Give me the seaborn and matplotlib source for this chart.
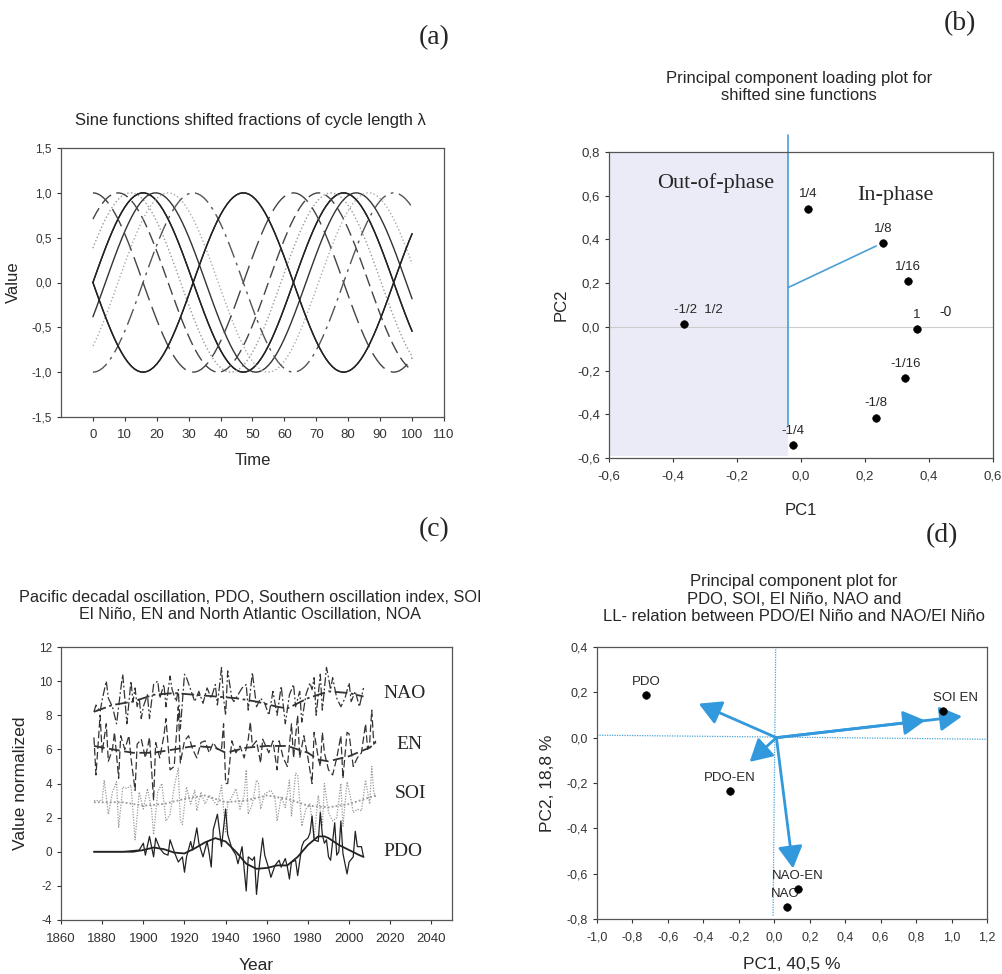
import numpy as np
import pandas as pd
import seaborn as sns
import matplotlib.pyplot as plt
from matplotlib.ticker import FuncFormatter, MultipleLocator

# (a) sine functions shifted by fractions of the cycle length
shifts = [0, 1, 1/16, -1/16, 1/8, -1/8, 1/4, -1/4, 1/2, -1/2]
shift_styles = ["-", "-", ":", "-", (0, (9, 4)), ":", (0, (14, 5)), (0, (12, 4, 2, 4)), "-", "-"]
shift_colors = ["#222222", "#222222", "#999999", "#333333", "#444444", "#aaaaaa",
                "#444444", "#555555", "#222222", "#222222"]
omega = 0.1  # cycle length lambda = 2*pi/omega
time = np.arange(0, 101)

# (b) loadings of the shifted sine functions
load_labels = ["-1/2  1/2", "1/4", "1/8", "1/16", "1", "-1/16", "-1/8", "-1/4"]
load_pc1 = [-0.365, 0.022, 0.256, 0.334, 0.362, 0.326, 0.233, -0.024]
load_pc2 = [0.012, 0.54, 0.382, 0.21, -0.01, -0.235, -0.415, -0.54]
boundary_x = [-0.04, -0.04]
boundary_y = [-0.45, 0.88]
ref_x = [-0.04, 0.235]
ref_y = [0.18, 0.37]

# (c) climate indices (year, value), each offset for display
pdo = [(1876, 0), (1890, 0), (1898, 0.1), (1900, 0.5), (1901, -0.2), (1903, 0.9), (1905, -0.3),
       (1906, 0.8), (1908, 0.2), (1910, -0.1), (1912, -0.2), (1913, 0.7), (1915, 0.0), (1917, -0.6),
       (1919, -0.3), (1920, -1.2), (1921, -0.3), (1923, 0.6), (1924, 0.1), (1926, 1.4), (1927, 0.5),
       (1929, -0.3), (1931, 0.6), (1932, -0.1), (1933, -0.9), (1934, 1.3), (1936, 2.2), (1938, 0.3),
       (1940, 2.5), (1941, 1.0), (1943, 0.2), (1945, -0.2), (1946, -0.7), (1948, 0.3), (1950, -2.3),
       (1951, -0.3), (1953, -0.5), (1954, -0.3), (1955, -2.5), (1956, -1.2), (1958, 0.8), (1959, -0.2),
       (1961, -1.0), (1962, -1.5), (1964, -0.8), (1966, -0.5), (1967, -0.9), (1969, -0.4), (1970, -0.9),
       (1971, -1.6), (1972, -0.6), (1974, -0.5), (1975, -1.4), (1977, 0.3), (1978, 0.6), (1980, 0.8),
       (1981, 1.1), (1982, 2.1), (1983, 0.7), (1985, 0.6), (1986, 2.3), (1987, 1.0), (1988, 0.5),
       (1989, 0.7), (1990, -0.3), (1991, -0.5), (1993, 1.7), (1994, -0.2), (1995, 0.0), (1996, 1.8),
       (1997, -0.1), (1999, -1.3), (2000, -0.6), (2002, -0.3), (2003, 1.2), (2004, 0.3), (2006, 0.3),
       (2007, -0.3)]
pdo_smooth = [(1876, 0), (1895, 0.0), (1900, 0.1), (1905, 0.25), (1910, 0.15), (1915, -0.05),
              (1920, -0.1), (1925, 0.2), (1930, 0.55), (1935, 0.8), (1940, 0.6), (1945, 0.0),
              (1950, -0.7), (1955, -1.0), (1960, -0.95), (1965, -0.8), (1970, -0.8), (1975, -0.3),
              (1980, 0.4), (1985, 0.9), (1988, 0.9), (1990, 0.8), (1995, 0.4), (2000, 0.1),
              (2005, -0.2), (2007, -0.3)]
soi = [(1876, 3.0), (1880, 3.0), (1881, 4.2), (1883, 2.2), (1885, 3.5), (1887, 4.1), (1888, 1.4),
       (1890, 3.8), (1892, 3.7), (1894, 3.9), (1896, 0.7), (1898, 3.5), (1900, 2.5), (1902, 3.7),
       (1904, 2.5), (1905, 1.0), (1907, 3.5), (1909, 4.0), (1911, 1.8), (1913, 2.2), (1915, 3.8),
       (1917, 4.9), (1918, 1.8), (1919, 1.6), (1921, 3.8), (1923, 2.8), (1925, 3.6), (1926, 2.4),
       (1928, 3.5), (1930, 2.8), (1932, 3.3), (1934, 3.0), (1936, 2.7), (1938, 3.9), (1939, 2.5),
       (1940, 1.1), (1941, 2.8), (1943, 3.2), (1945, 3.7), (1947, 2.5), (1949, 3.3), (1950, 4.8),
       (1951, 2.2), (1953, 2.8), (1955, 4.2), (1956, 4.0), (1957, 2.5), (1959, 3.4), (1962, 3.6),
       (1964, 3.2), (1965, 1.8), (1967, 3.2), (1969, 2.6), (1971, 4.2), (1972, 2.1), (1974, 4.6),
       (1975, 4.5), (1977, 1.5), (1979, 2.5), (1981, 2.8), (1983, 0.8), (1985, 3.3), (1987, 1.5),
       (1988, 4.0), (1990, 2.3), (1992, 1.8), (1994, 2.0), (1996, 4.0), (1997, 1.5), (1999, 4.1),
       (2001, 3.0), (2002, 2.3), (2004, 2.5), (2006, 2.4), (2008, 4.2), (2010, 2.8), (2011, 5.0),
       (2012, 3.5), (2013, 3.2)]
soi_smooth = [(1876, 2.9), (1890, 2.9), (1900, 2.7), (1910, 2.8), (1920, 3.1), (1930, 3.3),
              (1940, 2.9), (1950, 3.0), (1960, 3.3), (1970, 3.1), (1980, 2.7), (1990, 2.6),
              (2000, 2.8), (2013, 3.3)]
en = [(1876, 6.7), (1877, 4.5), (1879, 8.0), (1880, 5.8), (1882, 7.5), (1883, 5.3), (1885, 6.0),
      (1886, 7.0), (1888, 4.3), (1889, 6.8), (1891, 6.0), (1893, 6.8), (1894, 5.5), (1896, 3.6),
      (1897, 6.3), (1899, 6.6), (1901, 5.5), (1903, 6.7), (1905, 3.0), (1906, 6.4), (1908, 5.5),
      (1910, 6.8), (1911, 7.8), (1913, 4.8), (1915, 5.0), (1917, 8.5), (1918, 5.2), (1920, 6.5),
      (1922, 6.8), (1924, 6.0), (1926, 5.5), (1928, 6.4), (1930, 6.5), (1932, 5.8), (1934, 6.4),
      (1936, 6.0), (1938, 6.0), (1939, 7.5), (1940, 4.0), (1941, 4.0), (1943, 6.5), (1945, 5.8),
      (1947, 6.2), (1949, 5.5), (1951, 6.6), (1952, 7.6), (1953, 6.2), (1955, 6.5), (1957, 5.2),
      (1958, 6.6), (1961, 5.8), (1963, 6.5), (1965, 4.8), (1966, 6.5), (1968, 5.5), (1970, 5.0),
      (1972, 7.5), (1973, 5.5), (1975, 8.0), (1976, 5.5), (1978, 6.8), (1980, 5.5), (1982, 4.0),
      (1983, 7.0), (1985, 5.5), (1986, 5.0), (1987, 7.0), (1988, 5.8), (1990, 4.8), (1992, 4.5),
      (1994, 5.5), (1996, 6.8), (1997, 4.3), (1999, 7.0), (2000, 6.9), (2002, 5.0), (2004, 5.5),
      (2006, 5.8), (2008, 7.5), (2009, 6.0), (2010, 6.4), (2011, 8.3), (2012, 6.3), (2013, 6.5)]
en_smooth = [(1876, 6.2), (1885, 6.0), (1895, 5.8), (1905, 5.8), (1915, 6.0), (1925, 6.2),
             (1935, 6.1), (1940, 5.8), (1950, 6.1), (1960, 6.2), (1970, 6.2), (1980, 5.8),
             (1985, 5.4), (1990, 5.3), (2000, 5.6), (2010, 6.1), (2013, 6.4)]
nao = [(1876, 8.2), (1877, 8.6), (1879, 8.2), (1880, 8.9), (1882, 10.0), (1883, 9.0), (1885, 8.5),
       (1887, 7.5), (1889, 9.5), (1890, 10.4), (1891, 9.0), (1892, 7.5), (1894, 10.0), (1895, 8.8),
       (1896, 9.6), (1897, 8.5), (1898, 9.0), (1899, 7.8), (1900, 8.5), (1902, 9.2), (1903, 7.8),
       (1905, 9.8), (1907, 10.0), (1908, 9.0), (1910, 9.8), (1911, 8.5), (1913, 10.3), (1914, 9.5),
       (1916, 8.8), (1917, 9.5), (1918, 7.2), (1920, 10.4), (1921, 10.2), (1923, 9.5), (1925, 8.8),
       (1927, 9.4), (1929, 8.7), (1931, 9.6), (1933, 9.0), (1935, 9.8), (1936, 8.6), (1938, 10.8),
       (1939, 9.0), (1940, 8.0), (1941, 10.6), (1943, 9.0), (1944, 8.8), (1946, 9.2), (1948, 9.6),
       (1950, 9.8), (1951, 8.3), (1953, 10.5), (1955, 8.5), (1957, 9.0), (1959, 8.7), (1961, 8.0),
       (1963, 9.4), (1965, 8.0), (1967, 9.7), (1969, 7.5), (1971, 9.2), (1973, 9.8), (1974, 8.5),
       (1976, 9.4), (1977, 7.6), (1979, 9.2), (1981, 9.9), (1982, 9.5), (1983, 10.2), (1984, 8.0),
       (1986, 10.4), (1987, 8.3), (1989, 10.8), (1990, 10.2), (1991, 9.5), (1992, 10.2), (1994, 9.0),
       (1996, 8.5), (1998, 9.0), (2000, 9.9), (2001, 8.8), (2003, 9.4), (2005, 8.5), (2007, 9.6)]
nao_smooth = [(1876, 8.2), (1885, 8.6), (1895, 8.8), (1905, 9.2), (1915, 9.3), (1925, 9.2),
              (1935, 9.1), (1945, 9.0), (1955, 8.8), (1965, 8.5), (1970, 8.4), (1975, 8.7),
              (1980, 9.0), (1990, 9.4), (2000, 9.3), (2007, 9.1)]
index_labels = ["NAO", "EN", "SOI", "PDO"]
index_label_year = [2016.5, 2023, 2022, 2016.5]
index_label_value = [9.3, 6.3, 3.4, 0.0]

# (d) principal component scores and loading arrows
pc_labels = ["PDO", "SOI EN", "PDO-EN", "NAO-EN", "NAO"]
pc1_vals = [-0.722, 0.952, -0.25, 0.132, 0.07]
pc2_vals = [0.188, 0.118, -0.236, -0.668, -0.746]
arrow_origin = (0.012, 0.0)
arrow_x = [-0.426, -0.139, 0.106, 0.852, 1.059]
arrow_y = [0.15, -0.107, -0.577, 0.076, 0.094]

W, H = 1003, 974
sns.set_style("ticks")
plt.rcParams["font.family"] = ["Liberation Sans", "DejaVu Sans"]
plt.rcParams["axes.unicode_minus"] = False
plt.rcParams["axes.edgecolor"] = "#555555"
plt.rcParams["axes.linewidth"] = 0.9
plt.rcParams["xtick.color"] = "#333333"
plt.rcParams["ytick.color"] = "#333333"
plt.rcParams["xtick.major.size"] = 3
plt.rcParams["ytick.major.size"] = 3
plt.rcParams["xtick.major.pad"] = 6

fig = plt.figure(figsize=(W / 100, H / 100), dpi=100)


def box(l, t, r, b):
    return fig.add_axes([l / W, 1 - b / H, (r - l) / W, (b - t) / H])


comma = FuncFormatter(lambda v, p: f"{v:.1f}".replace(".", ","))
serif = ["Liberation Serif", "DejaVu Serif"]

# ---- (a)
ax = box(61, 148, 444, 417)
for s, ls, c in zip(shifts, shift_styles, shift_colors):
    df = pd.DataFrame({"t": time, "v": np.sin(omega * time + 2 * np.pi * s)})
    sns.lineplot(data=df, x="t", y="v", ax=ax, color=c, linestyle=ls, lw=1.0, estimator=None)
ax.set_xlim(-10, 110)
ax.set_ylim(-1.5, 1.5)
ax.set_xticks(range(0, 111, 10))
ax.yaxis.set_major_locator(MultipleLocator(0.5))
ax.yaxis.set_major_formatter(comma)
ax.tick_params(axis="x", labelsize=9.5)
ax.tick_params(axis="y", labelsize=8.5)
ax.set_xlabel("Time", fontsize=12, labelpad=8)
ax.set_ylabel("Value", fontsize=12, labelpad=8)
fig.text(250 / W, 1 - 120 / H, "Sine functions shifted fractions of cycle length \u03bb",
         ha="center", va="center", fontsize=12)
fig.text(434 / W, 1 - 38 / H, "(a)", family=serif, fontsize=20, ha="center", va="center")

# ---- (b)
ax = box(609, 152, 993, 458)
ax.axvspan(-0.6, -0.04, ymin=0.005, color="#ebebf7", lw=0)
ax.axhline(0, color="#cccccc", lw=0.8)
ax.plot(boundary_x, boundary_y, color="#4a9fd5", lw=1.2, clip_on=False)
ax.plot(ref_x, ref_y, color="#4a9fd5", lw=1.2)
sns.scatterplot(x=load_pc1, y=load_pc2, ax=ax, color="black", s=30, edgecolor="black", zorder=5)
for lab, x, y in zip(load_labels, load_pc1, load_pc2):
    dx = 0.045 if lab.startswith("-1/2") else 0
    ax.annotate(lab, (x + dx, y), xytext=(0, 6), textcoords="offset points",
                ha="center", va="bottom", fontsize=9.5)
ax.text(0.452, 0.035, "-0", ha="center", va="bottom", fontsize=10)
ax.text(-0.45, 0.66, "Out-of-phase", family=serif, fontsize=16, va="center")
ax.text(0.175, 0.6, "In-phase", family=serif, fontsize=16, va="center")
ax.set_xlim(-0.6, 0.6)
ax.set_ylim(-0.6, 0.8)
ax.xaxis.set_major_locator(MultipleLocator(0.2))
ax.yaxis.set_major_locator(MultipleLocator(0.2))
ax.xaxis.set_major_formatter(comma)
ax.yaxis.set_major_formatter(comma)
ax.tick_params(labelsize=9.5)
ax.set_xlabel("PC1", fontsize=12, labelpad=15)
ax.set_ylabel("PC2", fontsize=12, labelpad=6)
fig.text(799 / W, 1 - 87 / H, "Principal component loading plot for\nshifted sine functions",
         ha="center", va="center", fontsize=12, linespacing=1.2)
fig.text(960 / W, 1 - 24 / H, "(b)", family=serif, fontsize=20, ha="center", va="center")

# ---- (c)
ax = box(61, 647, 452, 920)
series = [(nao, nao_smooth, (0, (7, 2, 1.5, 2)), "#333333"),
          (en, en_smooth, (0, (6, 2.5)), "#333333"),
          (soi, soi_smooth, (0, (1, 1.2)), "#999999"),
          (pdo, pdo_smooth, "-", "#222222")]
for raw, smooth, ls, c in series:
    r = pd.DataFrame(raw, columns=["year", "value"])
    m = pd.DataFrame(smooth, columns=["year", "value"])
    sns.lineplot(data=r, x="year", y="value", ax=ax, color=c, linestyle=ls, lw=0.9, estimator=None)
    sns.lineplot(data=m, x="year", y="value", ax=ax, color=c, linestyle=ls, lw=1.3, estimator=None)
for lab, x, y in zip(index_labels, index_label_year, index_label_value):
    ax.text(x, y, lab, family=serif, fontsize=14, va="center", ha="left")
ax.set_xlim(1860, 2050)
ax.set_ylim(-4, 12)
ax.set_xticks(range(1860, 2041, 20))
ax.set_yticks(range(-4, 13, 2))
ax.tick_params(axis="x", labelsize=9.5)
ax.tick_params(axis="y", labelsize=8.5)
ax.set_xlabel("Year", fontsize=12.5, labelpad=10)
ax.set_ylabel("Value normalized", fontsize=12.5, labelpad=8)
fig.text(250 / W, 1 - 606 / H,
         "Pacific decadal oscillation, PDO, Southern oscillation index, SOI\n"
         "El Ni\u00f1o, EN and North Atlantic Oscillation, NOA",
         ha="center", va="center", fontsize=11.7, linespacing=1.2)
fig.text(434 / W, 1 - 530 / H, "(c)", family=serif, fontsize=20, ha="center", va="center")

# ---- (d)
ax = box(597, 647, 987, 919)
ax.plot([-1.0, 1.2], [0.011, -0.007], color="#4aa3d8", lw=0.9, ls=(0, (1, 1)))
ax.plot([0.008, -0.007], [0.39, -0.79], color="#4aa3d8", lw=0.9, ls=(0, (1, 1)))
for ex, ey in zip(arrow_x, arrow_y):
    ax.annotate("", xy=(ex, ey), xytext=arrow_origin,
                arrowprops=dict(arrowstyle="-|>,head_length=0.9,head_width=0.5", color="#3399dd",
                                lw=2.0, mutation_scale=15, shrinkA=0, shrinkB=0))
sns.scatterplot(x=pc1_vals, y=pc2_vals, ax=ax, color="black", s=30, edgecolor="black", zorder=5)
offsets = {"PDO": (0, 0), "SOI EN": (0.07, 0), "PDO-EN": (0, 0), "NAO-EN": (0, 0), "NAO": (-0.01, 0)}
for lab, x, y in zip(pc_labels, pc1_vals, pc2_vals):
    dx, dy = offsets[lab]
    ax.annotate(lab, (x + dx, y + dy), xytext=(0, 5), textcoords="offset points",
                ha="center", va="bottom", fontsize=9.5)
ax.set_xlim(-1.0, 1.2)
ax.set_ylim(-0.8, 0.4)
ax.xaxis.set_major_locator(MultipleLocator(0.2))
ax.yaxis.set_major_locator(MultipleLocator(0.2))
ax.xaxis.set_major_formatter(comma)
ax.yaxis.set_major_formatter(comma)
ax.tick_params(labelsize=9)
ax.set_xlabel("PC1, 40,5 %", fontsize=12.5, labelpad=10)
ax.set_ylabel("PC2, 18,8 %", fontsize=12.5, labelpad=8)
fig.text(794 / W, 1 - 599 / H,
         "Principal component plot for\nPDO, SOI, El Ni\u00f1o, NAO and\n"
         "LL- relation between PDO/El Ni\u00f1o and NAO/El Ni\u00f1o",
         ha="center", va="center", fontsize=12, linespacing=1.2)
fig.text(942 / W, 1 - 536 / H, "(d)", family=serif, fontsize=20, ha="center", va="center")

fig.savefig("out.png", dpi=100)
